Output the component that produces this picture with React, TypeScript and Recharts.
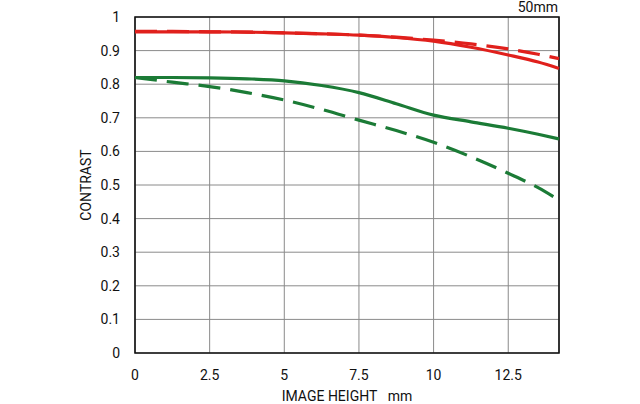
import React from 'react';
import { LineChart, Line, XAxis, YAxis, CartesianGrid, ReferenceArea, Label } from 'recharts';

// image height positions (mm) and contrast readings
const heights = [0, 1.25, 2.5, 3.75, 5, 6.25, 7.5, 8.75, 10, 11.25, 12.5, 13.5, 14.2];
const redSolid = [0.956, 0.956, 0.956, 0.955, 0.953, 0.95, 0.946, 0.939, 0.928, 0.91, 0.887, 0.866, 0.847];
const redDashed = [0.957, 0.957, 0.956, 0.955, 0.953, 0.95, 0.946, 0.94, 0.931, 0.92, 0.905, 0.889, 0.876];
const greenSolid = [0.82, 0.82, 0.819, 0.816, 0.81, 0.796, 0.775, 0.742, 0.708, 0.688, 0.669, 0.651, 0.637];
const greenDashed = [0.82, 0.806, 0.793, 0.775, 0.753, 0.725, 0.693, 0.662, 0.627, 0.584, 0.535, 0.492, 0.455];

const xTicks = [0, 2.5, 5, 7.5, 10, 12.5];
const yTicks = [0, 0.1, 0.2, 0.3, 0.4, 0.5, 0.6, 0.7, 0.8, 0.9, 1];

const data = heights.map((h, i) => ({
  h,
  rs: redSolid[i],
  rd: redDashed[i],
  gs: greenSolid[i],
  gd: greenDashed[i],
}));

const RED = '#e0201c';
const GREEN = '#1b7b36';
const font = 'Roboto, "Liberation Sans", sans-serif';

export default function App() {
  return (
    <div style={{ position: 'absolute', left: 0, top: 0, width: 640, height: 404, background: '#fff', fontFamily: font }}>
      <div style={{ position: 'absolute', right: 82, top: 0, fontSize: 14, lineHeight: '14px', color: '#111' }}>50mm</div>
      <LineChart width={640} height={404} data={data} margin={{ top: 17, right: 81, bottom: 19, left: 75 }}>
        <CartesianGrid stroke="#8a8a8a" strokeWidth={1} />
        <XAxis
          dataKey="h"
          type="number"
          domain={[0, 14.2]}
          ticks={xTicks}
          tickLine={false}
          axisLine={false}
          height={32}
          tick={{ fill: '#111', fontSize: 14, fontFamily: font }}
          tickMargin={11}
        >
          <Label value={'IMAGE HEIGHT\u00a0\u00a0\u00a0mm'} position="insideBottom" offset={-16} style={{ fill: '#111', fontSize: 14, fontFamily: font }} />
        </XAxis>
        <YAxis
          type="number"
          domain={[0, 1]}
          ticks={yTicks}
          tickLine={false}
          axisLine={false}
          width={60}
          tickFormatter={(v: number) => String(Math.round(v * 10) / 10)}
          tick={{ fill: '#111', fontSize: 14, fontFamily: font }}
          tickMargin={9}
        >
          <Label value="CONTRAST" angle={-90} position="insideLeft" offset={11} style={{ fill: '#111', fontSize: 14, fontFamily: font, textAnchor: 'middle' }} />
        </YAxis>
        <ReferenceArea x1={0} x2={14.2} y1={0} y2={1} fill="none" stroke="#111" strokeWidth={1.6} ifOverflow="visible" />
        <Line type="monotone" dataKey="rd" stroke={RED} strokeWidth={3.2} strokeDasharray="22 10" dot={false} isAnimationActive={false} />
        <Line type="monotone" dataKey="rs" stroke={RED} strokeWidth={3.2} dot={false} isAnimationActive={false} />
        <Line type="monotone" dataKey="gd" stroke={GREEN} strokeWidth={3.2} strokeDasharray="22 10" dot={false} isAnimationActive={false} />
        <Line type="monotone" dataKey="gs" stroke={GREEN} strokeWidth={3.2} dot={false} isAnimationActive={false} />
      </LineChart>
    </div>
  );
}
